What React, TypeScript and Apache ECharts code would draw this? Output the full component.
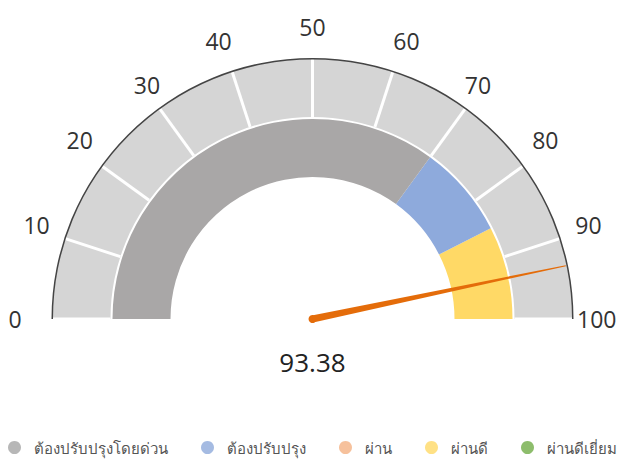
import React, { useEffect, useRef } from "react";
import * as echarts from "echarts";

const gaugeValue = 93.38;
const axisMin = 0;
const axisMax = 100;
const bandStops: [number, string][] = [
  [0.7, "#a9a7a7"],
  [0.85, "#8eaadc"],
  [1, "#ffd966"],
];
const legendNames = [
  "ต้องปรับปรุงโดยด่วน",
  "ต้องปรับปรุง",
  "ผ่าน",
  "ผ่านดี",
  "ผ่านดีเยี่ยม",
];
const legendColors = ["#a5a5a5", "#8eaadb", "#f4b183", "#ffd966", "#70ad47"];

const FONT = "'Open Sans', 'Noto Sans', sans-serif";
const CX = 312.5;
const CY = 319;

export default function App() {
  const ref = useRef<HTMLDivElement>(null);
  useEffect(() => {
    document.body.style.margin = "0";
    const chart = echarts.init(ref.current!, undefined, { renderer: "svg" });
    const common = {
      type: "gauge" as const,
      center: [CX, CY],
      startAngle: 180,
      endAngle: 0,
      min: axisMin,
      max: axisMax,
      splitNumber: 10,
    };
    chart.setOption({
      animation: false,
      grid: { show: false, left: -10, top: -10, width: 1, height: 1 },
      xAxis: { show: false, type: "value" },
      yAxis: { show: false, type: "value" },
      legend: {
        bottom: 5,
        left: "center",
        icon: "circle",
        itemWidth: 13,
        itemHeight: 13,
        itemGap: 33,
        textStyle: { fontSize: 15, color: "#555", fontFamily: FONT, padding: [0, 0, 0, 8] },
        data: legendNames,
      },
      series: [
        ...legendNames.map((n, i) => ({
          type: "scatter",
          name: n,
          data: [],
          itemStyle: { color: legendColors[i] },
        })),
        {
          ...common,
          radius: 260,
          axisLine: { lineStyle: { width: 58, color: [[1, "#d5d5d5"]] } },
          splitLine: { distance: -58, length: 58, lineStyle: { color: "#fff", width: 3 } },
          axisTick: { show: false },
          axisLabel: { distance: -44, color: "#333", fontSize: 23, fontFamily: FONT },
          pointer: { show: false },
          anchor: { show: false },
          title: { show: false },
          detail: { show: false },
          data: [{ value: 0 }],
        },
        {
          ...common,
          radius: 261,
          axisLine: { lineStyle: { width: 1.5, color: [[1, "#444"]] } },
          splitLine: { show: false },
          axisTick: { show: false },
          axisLabel: { show: false },
          pointer: { show: false },
          anchor: { show: false },
          title: { show: false },
          detail: { show: false },
          data: [{ value: 0 }],
        },
        {
          ...common,
          radius: 200,
          axisLine: { lineStyle: { width: 58, color: bandStops } },
          splitLine: { show: false },
          axisTick: { show: false },
          axisLabel: { show: false },
          pointer: {
            show: true,
            icon: "path://M3,0 L4,0 L7,100 L0,100 Z",
            length: 259,
            width: 7,
            offsetCenter: [0, 0],
            itemStyle: { color: "#e46c0a" },
          },
          anchor: { show: true, size: 8, showAbove: false, itemStyle: { color: "#e46c0a", borderWidth: 0 } },
          title: { show: false },
          detail: {
            show: true,
            offsetCenter: [0, 43],
            fontSize: 26,
            color: "#222",
            fontFamily: FONT,
            fontWeight: "normal",
            formatter: (v: number) => v.toFixed(2),
          },
          data: [{ value: gaugeValue }],
        },
      ],
    });
    return () => chart.dispose();
  }, []);
  return <div ref={ref} style={{ width: 625, height: 465 }} />;
}
